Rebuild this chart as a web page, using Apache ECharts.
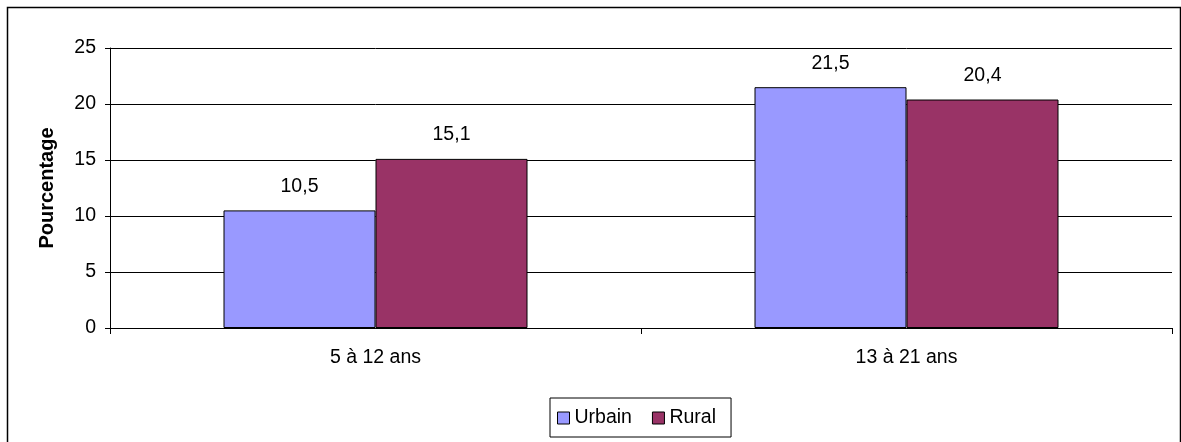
<!DOCTYPE html>
<html>
<head>
<meta charset="utf-8">
<script src="https://cdn.jsdelivr.net/npm/echarts@6/dist/echarts.min.js"></script>
<style>
html,body{margin:0;padding:0;background:#fff;}
#chart{width:1181px;height:442px;}
</style>
</head>
<body>
<div id="chart"></div>
<script>
const categories = ['5 à 12 ans', '13 à 21 ans'];
const urbain = [10.5, 21.5];
const rural = [15.1, 20.4];
const seriesNames = ['Urbain', 'Rural'];
const yTitle = 'Pourcentage';

const chart = echarts.init(document.getElementById('chart'), null, {renderer: 'canvas'});
const font = 'Liberation Sans, Arial, sans-serif';
const FS = 19.5;
const lbl = {
  show: true, position: 'top', distance: 14,
  color: '#000', fontFamily: font, fontSize: FS,
  formatter: p => String(p.value).replace('.', ',')
};
chart.setOption({
  animation: false,
  backgroundColor: '#fff',
  textStyle: {fontFamily: font},
  graphic: [{
    type: 'rect', silent: true,
    shape: {x: 7.5, y: 7.5, width: 1173, height: 445},
    style: {fill: 'none', stroke: '#000', lineWidth: 1.5}
  }],
  grid: {left: 110, right: 9, top: 48, bottom: 114, containLabel: false},
  legend: {
    left: 550, top: 398,
    data: seriesNames,
    icon: 'rect', itemWidth: 12, itemHeight: 12, itemGap: 20,
    borderColor: '#000', borderWidth: 1,
    padding: [10, 15, 9, 7],
    textStyle: {fontFamily: font, fontSize: FS, color: '#000'},
    itemStyle: {borderColor: '#000', borderWidth: 1}
  },
  xAxis: {
    type: 'category', data: categories,
    axisLine: {show: true, lineStyle: {color: '#000', width: 1}},
    axisTick: {show: true, length: 6, lineStyle: {color: '#000'}},
    axisLabel: {color: '#000', fontFamily: font, fontSize: FS, margin: 20}
  },
  yAxis: {
    type: 'value', min: 0, max: 25, interval: 5,
    name: yTitle, nameLocation: 'middle', nameGap: 53,
    nameTextStyle: {fontFamily: font, fontSize: 20, fontWeight: 'bold', color: '#000'},
    axisLine: {show: true, lineStyle: {color: '#000', width: 1}},
    axisTick: {show: true, length: 5, lineStyle: {color: '#000'}},
    axisLabel: {color: '#000', fontFamily: font, fontSize: FS, margin: 14},
    splitLine: {show: true, lineStyle: {color: '#000', width: 1}}
  },
  series: [
    {name: seriesNames[0], type: 'bar', data: urbain, barWidth: 152, barGap: '0%',
     itemStyle: {color: '#9999FF', borderColor: '#000', borderWidth: 1}, label: lbl},
    {name: seriesNames[1], type: 'bar', data: rural, barWidth: 152, barGap: '0%',
     itemStyle: {color: '#993366', borderColor: '#000', borderWidth: 1}, label: lbl}
  ]
});
</script>
</body>
</html>
